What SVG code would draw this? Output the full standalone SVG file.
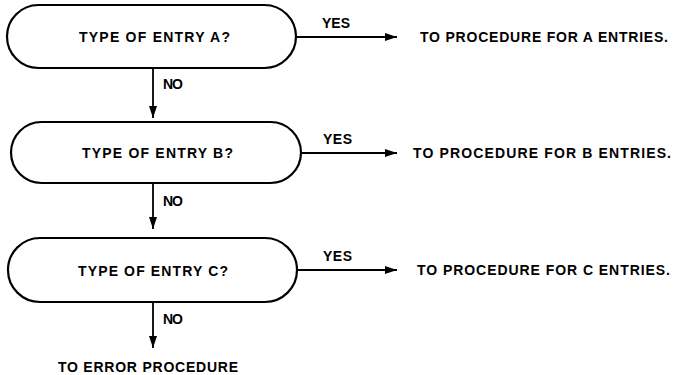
<svg xmlns="http://www.w3.org/2000/svg" width="676" height="375" viewBox="0 0 676 375">
<style>
.node{fill:#fff;stroke:#000;stroke-width:2.2}
.lbl{font-family:"Liberation Sans",Arial,sans-serif;font-weight:bold;font-size:14px;fill:#000}
.con{stroke:#000;stroke-width:1.8;fill:none}
</style>
<defs>
<marker id="ah" viewBox="0 0 12 8" refX="12" refY="4" markerWidth="12" markerHeight="8" markerUnits="userSpaceOnUse" orient="auto">
<path d="M0,0 L12,4 L0,8 Z" fill="#000"/>
</marker>
</defs>
<rect width="676" height="375" fill="#fff"/>
<g id="connectors">
<line class="con" x1="296" y1="37" x2="397" y2="37" marker-end="url(#ah)"/>
<line class="con" x1="301" y1="153" x2="397" y2="153" marker-end="url(#ah)"/>
<line class="con" x1="297" y1="270" x2="397" y2="270" marker-end="url(#ah)"/>
<line class="con" x1="153" y1="68" x2="153" y2="118" marker-end="url(#ah)"/>
<line class="con" x1="153" y1="183" x2="153" y2="229" marker-end="url(#ah)"/>
<line class="con" x1="153" y1="302" x2="153" y2="348" marker-end="url(#ah)"/>
<text class="lbl" x="322" y="28" textLength="28" lengthAdjust="spacing">YES</text>
<text class="lbl" x="323" y="144" textLength="29" lengthAdjust="spacing">YES</text>
<text class="lbl" x="323" y="261" textLength="29" lengthAdjust="spacing">YES</text>
<text class="lbl" x="163" y="89" textLength="20" lengthAdjust="spacing">NO</text>
<text class="lbl" x="163" y="206" textLength="20" lengthAdjust="spacing">NO</text>
<text class="lbl" x="163" y="324" textLength="20" lengthAdjust="spacing">NO</text>
</g>
<g id="nodeA">
<rect class="node" x="7" y="5" width="289" height="63" rx="31.5"/>
<text class="lbl" x="79" y="42" textLength="151" lengthAdjust="spacing">TYPE OF ENTRY A?</text>
</g>
<g id="nodeB">
<rect class="node" x="11" y="122" width="290" height="61" rx="30.5"/>
<text class="lbl" x="82" y="158" textLength="151" lengthAdjust="spacing">TYPE OF ENTRY B?</text>
</g>
<g id="nodeC">
<rect class="node" x="8" y="238" width="289" height="64" rx="32"/>
<text class="lbl" x="78" y="276" textLength="150" lengthAdjust="spacing">TYPE OF ENTRY C?</text>
</g>
<g id="targetA">
<text class="lbl" x="420" y="42" textLength="248" lengthAdjust="spacing">TO PROCEDURE FOR A ENTRIES.</text>
</g>
<g id="targetB">
<text class="lbl" x="413" y="158" textLength="258" lengthAdjust="spacing">TO PROCEDURE FOR B ENTRIES.</text>
</g>
<g id="targetC">
<text class="lbl" x="417" y="275" textLength="253" lengthAdjust="spacing">TO PROCEDURE FOR C ENTRIES.</text>
</g>
<g id="error">
<text class="lbl" x="58" y="372" textLength="180" lengthAdjust="spacing">TO ERROR PROCEDURE</text>
</g>
</svg>
